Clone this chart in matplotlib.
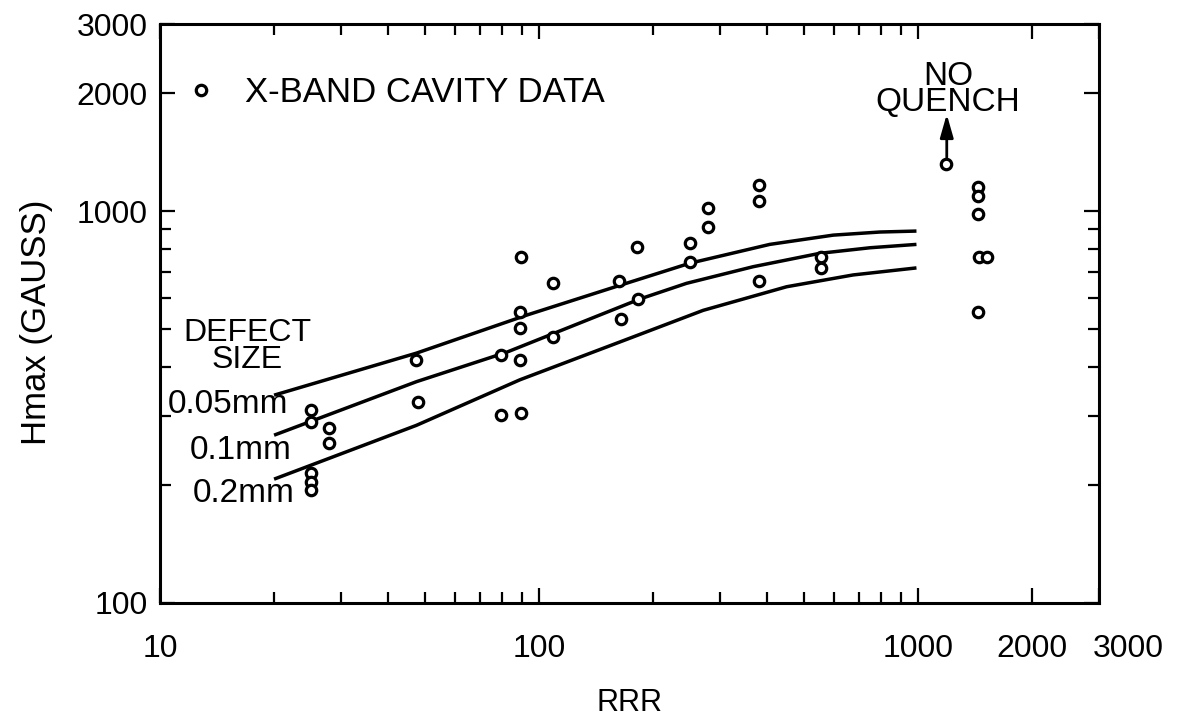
import numpy as np
import matplotlib
matplotlib.use("Agg")
import matplotlib.pyplot as plt
import matplotlib.transforms as mtransforms
from matplotlib.ticker import FixedLocator, NullFormatter

plt.rcParams["font.family"] = ["Liberation Sans", "DejaVu Sans"]

# measured quench fields, X-band cavities
rrr = [25, 25, 28, 28, 25, 25, 25,
       47.5, 48,
       79.6, 79.6, 89.6, 89, 89, 89, 89.6,
       109, 109,
       163, 165, 181, 182,
       250, 250, 279, 279,
       380, 380, 380,
       556, 556,
       1187,
       1436, 1436, 1436, 1449, 1524, 1436]
hmax = [310, 290, 279, 256, 215, 204, 194,
        417, 326,
        429, 302, 305, 418, 502, 553, 764,
        654, 476,
        664, 531, 811, 598,
        827, 743, 1016, 912,
        1164, 1060, 664,
        762, 714,
        1318,
        1150, 1091, 982, 764, 764, 551]

# calculated curves for three defect sizes
rrr_005 = [20, 47.5, 93, 164, 250, 406, 597, 793, 990]
hmax_005 = [339, 434, 543, 647, 736, 822, 868, 884, 889]
rrr_01 = [20, 47.5, 82, 185, 245, 367, 550, 747, 990]
hmax_01 = [268, 367, 436, 597, 654, 721, 780, 806, 822]
rrr_02 = [20, 47.5, 89, 164, 271, 450, 674, 990]
hmax_02 = [207, 284, 371, 464, 558, 641, 687, 716]

x_major = [10, 100, 1000, 2000, 3000]
x_minor = [20, 30, 40, 50, 60, 70, 80, 90, 200, 300, 400, 500, 600, 700, 800, 900]
y_major = [100, 1000, 2000, 3000]
y_minor = [200, 300, 400, 500, 600, 700, 800, 900]

fig = plt.figure(figsize=(11.84, 7.17), dpi=100)
ax = fig.add_axes([0.1351, 0.159, 0.7931, 0.8075])

for xs, ys in ((rrr_005, hmax_005), (rrr_01, hmax_01), (rrr_02, hmax_02)):
    ax.plot(xs, ys, color="k", lw=2.5, solid_capstyle="butt",
            solid_joinstyle="round", zorder=2)

pts, = ax.plot(rrr, hmax, ls="none", marker="o", ms=7.5, mew=2.3,
               mfc="white", mec="k", zorder=3)

ax.set_xscale("log")
ax.set_yscale("log")
ax.set_xlim(10, 3000)
ax.set_ylim(100, 3000)

ax.xaxis.set_major_locator(FixedLocator(x_major))
ax.xaxis.set_minor_locator(FixedLocator(x_minor))
ax.yaxis.set_major_locator(FixedLocator(y_major))
ax.yaxis.set_minor_locator(FixedLocator(y_minor))
ax.set_xticklabels([str(v) for v in x_major])
ax.set_yticklabels([str(v) for v in y_major])
ax.xaxis.set_minor_formatter(NullFormatter())
ax.yaxis.set_minor_formatter(NullFormatter())

ax.tick_params(which="both", direction="in", top=True, right=True,
               width=1.6, color="k", labelsize=23)
ax.tick_params(which="major", length=11)
ax.tick_params(which="minor", length=8)
ax.tick_params(axis="x", which="both", pad=22)
ax.tick_params(axis="y", which="both", pad=9)
for sp in ax.spines.values():
    sp.set_linewidth(2.2)

# last x label sits a little right of the corner
shift = mtransforms.ScaledTranslation(0.29, 0, fig.dpi_scale_trans)
last = ax.get_xticklabels()[-1]
last.set_transform(last.get_transform() + shift)

ax.set_xlabel("RRR", fontsize=22)
ax.set_ylabel("Hmax (GAUSS)", fontsize=25)
ax.xaxis.set_label_coords(0.5, -0.146)
ax.yaxis.set_label_coords(-0.114, 0.485)

ax.legend([pts], ["X-BAND CAVITY DATA"], loc="center left",
          bbox_to_anchor=(0.0298, 0.881), frameon=False, fontsize=25,
          handlelength=0.75, handletextpad=0.9, borderpad=0, borderaxespad=0,
          numpoints=1)

# labels for the curves
ax.text(17, 451, "DEFECT\nSIZE", fontsize=23, ha="center", va="center",
        linespacing=0.85)
ax.text(10.5, 320, "0.05mm", fontsize=24, ha="left", va="center")
ax.text(12.0, 245, "0.1mm", fontsize=24, ha="left", va="center")
ax.text(12.2, 190, "0.2mm", fontsize=24, ha="left", va="center")

ax.text(1200, 2043, "NO\nQUENCH", fontsize=24, ha="center", va="center",
        linespacing=0.8)
ax.annotate("", xy=(1190, 1766), xytext=(1190, 1370),
            arrowprops=dict(arrowstyle="-|>,head_length=0.7,head_width=0.2",
                            lw=2, color="k", mutation_scale=20,
                            shrinkA=0, shrinkB=0))

fig.savefig("out.png", dpi=100, facecolor="white")
